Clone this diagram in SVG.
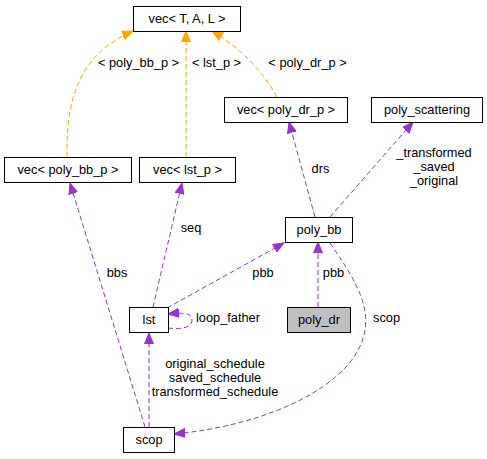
<svg xmlns="http://www.w3.org/2000/svg" width="487" height="459" viewBox="0 0 487 459">
<style>
text{font-family:"Liberation Sans",Arial,sans-serif;font-size:12.8px;fill:#000;text-anchor:middle}
.box{fill:#fff;stroke:#000;stroke-width:1}
.gray{fill:#bfbfbf}
.p{fill:none;stroke:#9a32cd;stroke-width:1;stroke-dasharray:5,3;marker-end:url(#ap)}
.o{fill:none;stroke:#ffa500;stroke-width:1;stroke-dasharray:5,3;marker-end:url(#ao)}
</style>
<defs>
<marker id="ap" markerUnits="userSpaceOnUse" markerWidth="12" markerHeight="10" refX="11" refY="5" orient="auto" viewBox="0 0 12 10"><path d="M0,0.5 L11,5 L0,9.5 Z" fill="#9a32cd" stroke="#9a32cd"/></marker>
<marker id="ao" markerUnits="userSpaceOnUse" markerWidth="12" markerHeight="10" refX="11" refY="5" orient="auto" viewBox="0 0 12 10"><path d="M0,0.5 L11,5 L0,9.5 Z" fill="#ffa500" stroke="#ffa500"/></marker>
</defs>
<g id="edges">
<path class="o" d="M67,157 C66,100 78,55 133,31"/>
<text x="138.5" y="67">&lt; poly_bb_p &gt;</text>
<path class="o" d="M186,157 L186,31"/>
<text x="216.5" y="67">&lt; lst_p &gt;</text>
<path class="o" d="M277,97 C262,70 240,48 212,31"/>
<text x="307.5" y="67">&lt; poly_dr_p &gt;</text>
<path class="p" d="M315,217 L289,122"/>
<text x="320.5" y="173">drs</text>
<path class="p" d="M330,217 L413,122"/>
<text x="434" y="157">_transformed</text>
<text x="434" y="171">_saved</text>
<text x="434" y="185">_original</text>
<path class="p" d="M318,307 L318,242"/>
<text x="333.5" y="277">pbb</text>
<path class="p" d="M167,308 L284,243"/>
<text x="263" y="277">pbb</text>
<path class="p" d="M330,243 C352,275 372,305 364,335 C352,385 270,425 174,434"/>
<text x="386.5" y="322">scop</text>
<path class="p" d="M145,427 L70,183"/>
<text x="117" y="277">bbs</text>
<path class="p" d="M153,307 L182,183"/>
<text x="191" y="232">seq</text>
<path class="p" d="M168,328 C185,330 192,326 192,320 C192,314 186,312 168,314"/>
<text x="228" y="322">loop_father</text>
<path class="p" d="M149,427 L149,333"/>
<text x="215" y="368">original_schedule</text>
<text x="215" y="382">saved_schedule</text>
<text x="215" y="396">transformed_schedule</text>
</g>
<g id="vecTAL"><rect class="box" x="133.5" y="6.5" width="107" height="25"/><text x="187" y="23">vec&lt; T, A, L &gt;</text></g>
<g id="vec_poly_dr_p"><rect class="box" x="224.5" y="97.5" width="123" height="25"/><text x="286" y="114">vec&lt; poly_dr_p &gt;</text></g>
<g id="poly_scattering"><rect class="box" x="371.5" y="97.5" width="111" height="25"/><text x="427" y="114">poly_scattering</text></g>
<g id="vec_poly_bb_p"><rect class="box" x="4.5" y="157.5" width="127" height="25"/><text x="68" y="174">vec&lt; poly_bb_p &gt;</text></g>
<g id="vec_lst_p"><rect class="box" x="139.5" y="157.5" width="96" height="25"/><text x="187.5" y="174">vec&lt; lst_p &gt;</text></g>
<g id="poly_bb"><rect class="box" x="285.5" y="217.5" width="67" height="25"/><text x="319" y="234">poly_bb</text></g>
<g id="lst"><rect class="box" x="129.5" y="307.5" width="39" height="25"/><text x="149" y="324">lst</text></g>
<g id="poly_dr"><rect class="box gray" x="287.5" y="307.5" width="63" height="25"/><text x="319" y="324">poly_dr</text></g>
<g id="scop"><rect class="box" x="123.5" y="427.5" width="51" height="25"/><text x="149" y="444">scop</text></g>
</svg>
